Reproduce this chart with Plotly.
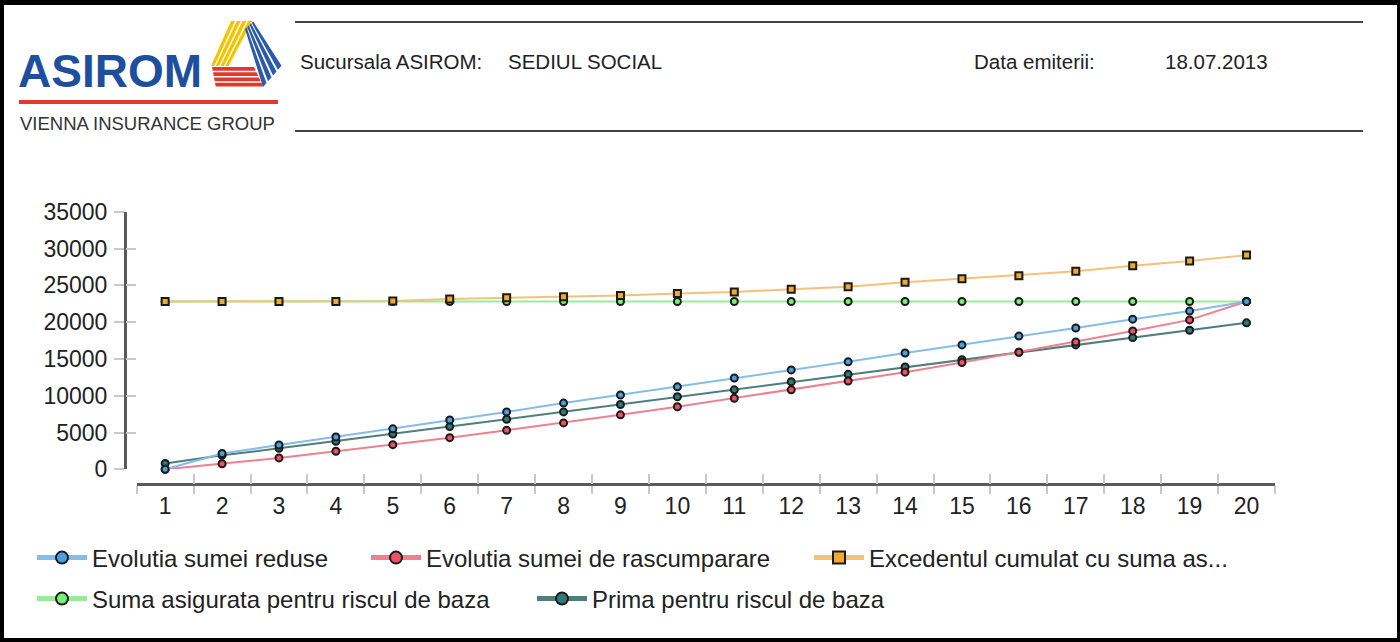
import plotly.graph_objects as go

# --- data ---
years = list(range(1, 21))
year_labels = [str(y) for y in years]

suma_redusa = [0, 2150, 3300, 4400, 5500, 6700, 7800, 9000, 10100, 11200,
               12400, 13500, 14600, 15800, 16900, 18100, 19200, 20400, 21500, 22800]
suma_rascumparare = [0, 750, 1550, 2450, 3350, 4300, 5300, 6300, 7400, 8500,
                     9650, 10800, 12000, 13200, 14500, 15900, 17300, 18800, 20300, 22800]
excedent_cumulat = [22800, 22800, 22800, 22800, 22850, 23150, 23300, 23450, 23600, 23900,
                    24100, 24450, 24800, 25400, 25900, 26300, 26900, 27650, 28300, 29100]
suma_asigurata = [22800, 22800, 22800, 22800, 22800, 22800, 22800, 22800, 22800, 22800,
                  22800, 22800, 22800, 22800, 22800, 22800, 22800, 22800, 22800, 22800]
prima_risc = [800, 1900, 2850, 3800, 4800, 5800, 6800, 7800, 8800, 9850,
              10800, 11900, 12900, 13900, 14900, 15900, 16900, 17900, 18900, 19900]

y_ticks = [0, 5000, 10000, 15000, 20000, 25000, 30000, 35000]
y_tick_labels = [str(v) for v in y_ticks]

series_names = [
    "Evolutia sumei reduse",
    "Evolutia sumei de rascumparare",
    "Excedentul cumulat cu suma as...",
    "Suma asigurata pentru riscul de baza",
    "Prima pentru riscul de baza",
]

W, H = 1400, 642
ML, MR, MT, MB = 125, 125, 200, 142
PW, PH = W - ML - MR, H - MT - MB


def px(x):
    return (x - ML) / PW


def py(y):
    return (H - MB - y) / PH


FONT = "Liberation Sans, Arial, sans-serif"
TXT = "#222222"
EDGE = "#1a1a1a"

fig = go.Figure()


def add_series(values, name, line_color, fill, symbol, legend, axes):
    fig.add_trace(go.Scatter(
        x=years, y=values, name=name, mode="lines+markers",
        line=dict(color=line_color, width=2),
        marker=dict(symbol=symbol, size=7, color=fill, line=dict(color=EDGE, width=2)),
        legend=legend, cliponaxis=False,
        xaxis=axes[0], yaxis=axes[1],
    ))


add_series(suma_asigurata, series_names[3], "#98ec98", "#78f078", "circle", "legend4", ("x", "y"))
add_series(prima_risc, series_names[4], "#4f7f7a", "#2f7a78", "circle", "legend5", ("x", "y"))
add_series(suma_rascumparare, series_names[1], "#f0808f", "#ef5066", "circle", "legend2", ("x", "y"))
add_series(suma_redusa, series_names[0], "#86bde8", "#4a9fdc", "circle", "legend", ("x2", "y2"))
add_series(excedent_cumulat, series_names[2], "#f2c27a", "#f0aa30", "square", "legend3", ("x2", "y2"))

boundaries = [y - 0.5 for y in years] + [years[-1] + 0.5]
x_dom = [px(136.7), 1.0]
y_dom = [py(469.3), py(211.7)]
x_pos = py(484)

fig.update_layout(
    width=W, height=H,
    margin=dict(l=ML, r=MR, t=MT, b=MB),
    paper_bgcolor="black",
    plot_bgcolor="rgba(0,0,0,0)",
    showlegend=True,
    font=dict(family=FONT, color=TXT, size=23),
    xaxis=dict(
        domain=x_dom, range=[0.5, 20.5], anchor="free", position=x_pos,
        tickvals=years, ticktext=year_labels, ticks="",
        showline=True, linecolor="#5a5a5a", linewidth=3,
        showgrid=False, zeroline=False,
        tickfont=dict(size=23, color=TXT),
        minor=dict(tickmode="array", tickvals=boundaries, ticks="outside",
                   ticklen=8, tickwidth=1.5, tickcolor="#c8c8c8", showgrid=False),
    ),
    xaxis2=dict(
        overlaying="x", matches="x", anchor="free", position=x_pos,
        tickvals=boundaries, ticks="inside", ticklen=10, tickwidth=1.5,
        tickcolor="#c8c8c8", showticklabels=False, showline=False,
        showgrid=False, zeroline=False,
    ),
    yaxis=dict(
        domain=y_dom, range=[0, 35000], anchor="free", position=0,
        tickvals=y_ticks, ticktext=y_tick_labels, ticks="outside", ticklen=10, tickwidth=1.5,
        tickcolor="#c8c8c8", showline=True, linecolor="#5a5a5a", linewidth=3,
        showgrid=False, zeroline=False, ticklabelstandoff=2,
        tickfont=dict(size=23, color=TXT),
    ),
    yaxis2=dict(
        overlaying="y", matches="y", anchor="free", position=0,
        tickvals=y_ticks, ticks="inside", ticklen=10, tickwidth=1.5,
        tickcolor="#c8c8c8", showticklabels=False, showline=False,
        showgrid=False, zeroline=False,
    ),
)

# one legend box per entry, so the entries can flow like the reference
legend_spots = {
    "legend": (37, 558), "legend2": (371, 558), "legend3": (814, 558),
    "legend4": (37, 599), "legend5": (537, 599),
}
for key, (lx, ly) in legend_spots.items():
    fig.update_layout({key: dict(
        x=px(lx - 5), y=py(ly), xanchor="left", yanchor="middle",
        orientation="h", itemwidth=50, itemsizing="constant",
        bgcolor="rgba(0,0,0,0)", borderwidth=0, visible=True,
        font=dict(family=FONT, size=24, color=TXT),
    )})

shapes = [
    # white page inside the black frame
    dict(type="rect", xref="paper", yref="paper", x0=px(4), x1=px(1397), y0=py(5), y1=py(638),
         fillcolor="white", line=dict(width=0), layer="below"),
    # header rules
    dict(type="line", xref="paper", yref="paper", x0=px(295), x1=px(1363), y0=py(22), y1=py(22),
         line=dict(color="#444444", width=2)),
    dict(type="line", xref="paper", yref="paper", x0=px(295), x1=px(1363), y0=py(131), y1=py(131),
         line=dict(color="#444444", width=2)),
    # logo red underline
    dict(type="rect", xref="paper", yref="paper", x0=px(19), x1=px(278), y0=py(100), y1=py(104),
         fillcolor="#e03a2e", line=dict(width=0)),
]


def stripes(a0, a1, b0, b1, n, color, gap=0.3):
    # a0->a1 and b0->b1 are the two long edges of a band; split it into n stripes
    def lerp(p, q, t):
        return (p[0] + (q[0] - p[0]) * t, p[1] + (q[1] - p[1]) * t)
    out = []
    for i in range(n):
        t0 = i / n
        t1 = (i + 1 - gap) / n
        pts = [lerp(a0, b0, t0), lerp(a1, b1, t0), lerp(a1, b1, t1), lerp(a0, b0, t1)]
        path = "M " + " L ".join(f"{px(x):.5f},{py(y):.5f}" for x, y in pts) + " Z"
        out.append(dict(type="path", xref="paper", yref="paper", path=path,
                        fillcolor=color, line=dict(width=0)))
    return out


shapes += stripes((211, 66), (231, 21), (230, 66), (254, 21), 4, "#f5c400")
shapes += stripes((245, 29), (263, 87), (254, 21), (283, 64), 4, "#2a5aa8")
shapes += stripes((212, 67), (254, 67), (216, 88), (264, 88), 4, "#e0392b")
fig.update_layout(shapes=shapes)

HEAD = "Liberation Sans, Arial, sans-serif"
annotations = [
    dict(text="<b>ASIROM</b>", x=px(16), y=py(71), font=dict(family=FONT, size=46, color="#1d4f9e")),
    dict(text="VIENNA INSURANCE GROUP", x=px(18), y=py(124), font=dict(family=FONT, size=18.5, color="#333333")),
    dict(text="Sucursala ASIROM:", x=px(298), y=py(61), font=dict(family=HEAD, size=20.5, color=TXT)),
    dict(text="SEDIUL SOCIAL", x=px(506), y=py(61), font=dict(family=HEAD, size=20.5, color=TXT)),
    dict(text="Data emiterii:", x=px(972), y=py(61), font=dict(family=HEAD, size=20.5, color=TXT)),
    dict(text="18.07.2013", x=px(1163), y=py(61), font=dict(family=HEAD, size=20.5, color=TXT)),
]
for a in annotations:
    a.update(xref="paper", yref="paper", xanchor="left", yanchor="middle", showarrow=False)
fig.update_layout(annotations=annotations)

# drop the browser's default 8px body margin so the figure sits at the page corner
fig.write_html("out.html", config={"displayModeBar": False},
               post_script="document.body.style.margin='0px';")
